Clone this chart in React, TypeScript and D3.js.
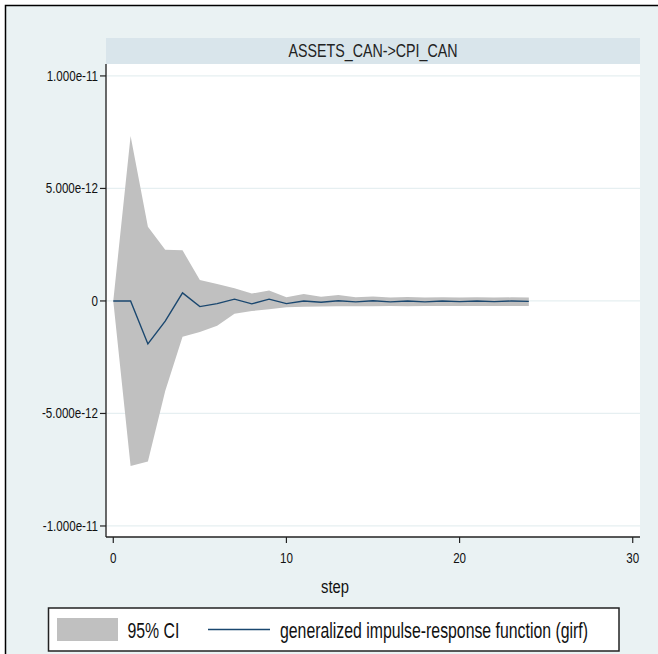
import React from "react";
import * as d3 from "d3";

// Generalized impulse response of CPI_CAN to a shock in ASSETS_CAN, with 95% band
const steps = d3.range(0, 25);
const girf = [0, 0, -1.91, -0.9, 0.36, -0.25, -0.12, 0.08, -0.13, 0.08, -0.12, 0.0, -0.06, 0.01, -0.04, 0.01, -0.04, 0.0, -0.04, 0.0, -0.03, 0.0, -0.03, 0.0, -0.02].map((v) => v * 1e-12);
const ciUpper = [0, 7.33, 3.3, 2.27, 2.25, 0.93, 0.75, 0.56, 0.33, 0.46, 0.17, 0.31, 0.19, 0.26, 0.16, 0.2, 0.15, 0.18, 0.15, 0.17, 0.15, 0.16, 0.15, 0.16, 0.15].map((v) => v * 1e-12);
const ciLower = [0, -7.33, -7.14, -4.0, -1.59, -1.38, -1.1, -0.57, -0.45, -0.37, -0.28, -0.26, -0.25, -0.24, -0.23, -0.23, -0.22, -0.23, -0.22, -0.22, -0.22, -0.22, -0.22, -0.22, -0.22].map((v) => v * 1e-12);

const yTicks = [1e-11, 5e-12, 0, -5e-12, -1e-11];
const yTickLabels = ["1.000e-11", "5.000e-12", "0", "-5.000e-12", "-1.000e-11"];
const xTicks = [0, 10, 20, 30];

const panelTitle = "ASSETS_CAN->CPI_CAN";
const xTitle = "step";
const legendLabels = ["95% CI", "generalized impulse-response function (girf)"];

const W = 658;
const H = 654;
const plot = { left: 106, right: 640, top: 64, bottom: 537 };

const BG = "#EAF2F3";
const STRIP = "#D9E5EB";
const BAND = "#C0C0C0";
const LINE = "#1A476F";
const FONT = "'Liberation Sans', Arial, sans-serif";

function SText({ x, y, size, sx, anchor = "start", children, fill = "#000" }: any) {
  return (
    <text
      transform={`translate(${x},${y}) scale(${sx},1)`}
      fontSize={size}
      fontFamily={FONT}
      textAnchor={anchor}
      fill={fill}
    >
      {children}
    </text>
  );
}

export default function App() {
  const x = d3.scaleLinear().domain([-0.42, 30.42]).range([plot.left, plot.right]);
  const y = d3.scaleLinear().domain([-10.49e-12, 10.53e-12]).range([plot.bottom, plot.top]);

  const band = d3
    .area<number>()
    .x((d) => x(d))
    .y0((d) => y(ciLower[d]))
    .y1((d) => y(ciUpper[d]));
  const line = d3
    .line<number>()
    .x((d) => x(d))
    .y((d) => y(girf[d]));

  return (
    <svg width={W} height={H} style={{ position: "absolute", left: 0, top: 0 }}>
      <rect x={0} y={0} width={W} height={H} fill="#fff" />
      <rect x={5.5} y={5.5} width={W + 20} height={H + 20} fill={BG} stroke="#000" strokeWidth={1.5} />

      {/* panel title strip */}
      <rect x={plot.left} y={38} width={plot.right - plot.left} height={plot.top - 38} fill={STRIP} />
      <SText x={(plot.left + plot.right) / 2} y={57} size={19} sx={0.75} anchor="middle" fill="#222">
        {panelTitle}
      </SText>

      {/* plot region */}
      <rect x={plot.left} y={plot.top} width={plot.right - plot.left} height={plot.bottom - plot.top} fill="#fff" />
      {yTicks.map((t) => (
        <line key={"g" + t} x1={plot.left} x2={plot.right} y1={y(t)} y2={y(t)} stroke="#E6EFF1" strokeWidth={1.2} />
      ))}

      <path d={band(steps) || ""} fill={BAND} />
      <path d={line(steps) || ""} fill="none" stroke={LINE} strokeWidth={1.4} />

      {/* y axis */}
      <line x1={plot.left} x2={plot.left} y1={plot.top} y2={plot.bottom} stroke="#444" strokeWidth={1.6} />
      {yTicks.map((t, i) => (
        <g key={"y" + t}>
          <line x1={plot.left - 6} x2={plot.left} y1={y(t)} y2={y(t)} stroke="#222" strokeWidth={1.2} />
          <SText x={plot.left - 8} y={y(t) + 5} size={14.5} sx={0.8} anchor="end" fill="#111">
            {yTickLabels[i]}
          </SText>
        </g>
      ))}

      {/* x axis */}
      <line x1={plot.left} x2={plot.right} y1={plot.bottom} y2={plot.bottom} stroke="#222" strokeWidth={1.5} />
      {xTicks.map((t) => (
        <g key={"x" + t}>
          <line x1={x(t)} x2={x(t)} y1={plot.bottom} y2={plot.bottom + 6} stroke="#222" strokeWidth={1.2} />
          <SText x={x(t)} y={563} size={14.5} sx={0.8} anchor="middle" fill="#111">
            {String(t)}
          </SText>
        </g>
      ))}
      <SText x={(plot.left + plot.right) / 2 - 38} y={593} size={19} sx={0.78} anchor="middle" fill="#111">
        {xTitle}
      </SText>

      {/* legend */}
      <rect x={48.5} y={608} width={570.5} height={43} fill="#fff" stroke="#222" strokeWidth={1.5} />
      <rect x={57} y={618} width={61} height={23} fill={BAND} />
      <SText x={127.5} y={638} size={22} sx={0.72} fill="#111">
        {legendLabels[0]}
      </SText>
      <line x1={208} x2={270} y1={629.5} y2={629.5} stroke={LINE} strokeWidth={1.4} />
      <SText x={280} y={638} size={22} sx={0.72} fill="#111">
        {legendLabels[1]}
      </SText>
    </svg>
  );
}
